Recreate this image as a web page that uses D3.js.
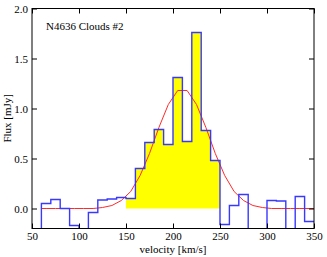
<!DOCTYPE html>
<html>
<head>
<meta charset="utf-8">
<script src="https://cdn.jsdelivr.net/npm/d3@7"></script>
<style>
  body { margin: 0; background: #fff; }
  svg text { font-family: "Liberation Serif", "DejaVu Serif", serif; font-size: 11px; fill: #000; }
</style>
</head>
<body>
<div id="chart"></div>
<script>
// spectrum: 10 km/s channels, value is flux of channel starting at binStart
var binStart = [50, 60, 70, 80, 90, 100, 110, 120, 130, 140,
                150, 160, 170, 180, 190, 200, 210, 220, 230, 240,
                250, 260, 270, 280, 290, 300, 310, 320, 330, 340];
var flux = [-0.3, 0.05, 0.09, 0.0, -0.17, -0.3, -0.04, 0.085, 0.095, 0.11,
            0.10, 0.40, 0.66, 0.79, 0.64, 1.31, 0.67, 1.76, 0.78, 0.48,
            -0.16, 0.03, 0.14, -0.3, -0.3, 0.08, 0.075, -0.3, 0.12, -0.13];

// gaussian fit
var fitVel = [60, 65, 75, 85, 95, 105, 115, 125, 135, 145, 155, 165, 175, 185, 195,
              205, 215, 225, 235, 245, 255, 265, 275, 285, 295, 305, 315, 325, 335, 345, 350];
var fitFlux = [0, 0, 0, 0, 0, 0, 0, 0.01, 0.03, 0.08, 0.17, 0.33, 0.55, 0.81, 1.04,
               1.18, 1.18, 1.04, 0.81, 0.55, 0.33, 0.17, 0.08, 0.03, 0.01, 0, 0, 0, 0, 0, 0];

var xTicks = [50, 100, 150, 200, 250, 300, 350];
var yTicks = [0, 0.5, 1.0, 1.5, 2.0];
var fillRange = [150, 250];
var title = "N4636 Clouds #2";

var svgWidth = 327, svgHeight = 257;
var margin = {top: 8.5, right: 13, bottom: 28.5, left: 32};
var width = svgWidth - margin.left - margin.right,
    height = svgHeight - margin.top - margin.bottom;

var svg = d3.select('#chart').append('svg')
  .attr('width', svgWidth)
  .attr('height', svgHeight);

var g = svg.append('g')
  .attr('transform', 'translate(' + margin.left + ',' + margin.top + ')');

var x = d3.scaleLinear().domain([50, 350]).range([0, width]);
var y = d3.scaleLinear().domain([-0.2, 2.0]).range([height, 0]);

g.append('clipPath').attr('id', 'plot-clip')
  .append('rect').attr('width', width).attr('height', height);

// step points: channel edges plus the closing edge
var steps = binStart.map(function(v, i) { return {v: v, f: flux[i]}; });
steps.push({v: binStart[binStart.length - 1] + 10, f: flux[flux.length - 1]});

var inner = g.append('g').attr('clip-path', 'url(#plot-clip)');

// yellow shaded line region
var shaded = steps.filter(function(d) { return d.v >= fillRange[0] && d.v <= fillRange[1]; });
var area = d3.area()
  .x(function(d) { return x(d.v); })
  .y0(y(0))
  .y1(function(d) { return y(d.f); })
  .curve(d3.curveStepAfter);
inner.append('path')
  .datum(shaded)
  .attr('fill', '#ffff00')
  .attr('d', area);

var fitLine = d3.line()
  .x(function(d, i) { return x(fitVel[i]); })
  .y(function(d) { return y(d); });
inner.append('path')
  .datum(fitFlux)
  .attr('fill', 'none')
  .attr('stroke', '#ff2a2a')
  .attr('stroke-width', 1)
  .attr('d', fitLine);

var stepLine = d3.line()
  .x(function(d) { return x(d.v); })
  .y(function(d) { return y(d.f); })
  .curve(d3.curveStepAfter);
inner.append('path')
  .datum(steps)
  .attr('fill', 'none')
  .attr('stroke', '#3838ff')
  .attr('stroke-width', 1.4)
  .attr('d', stepLine);

// axes, ticks inward on all sides
var tl = 5;
g.append('g')
  .attr('transform', 'translate(0,' + height + ')')
  .call(d3.axisBottom(x).tickValues(xTicks).tickSizeInner(-tl).tickSizeOuter(0).tickPadding(4).tickFormat(d3.format('d')))
  .call(function(a) { a.select('.domain').remove(); });
g.append('g')
  .call(d3.axisTop(x).tickValues(xTicks).tickSizeInner(-tl).tickSizeOuter(0).tickFormat(''))
  .call(function(a) { a.select('.domain').remove(); });
g.append('g')
  .call(d3.axisLeft(y).tickValues(yTicks).tickSizeInner(-tl).tickSizeOuter(0).tickPadding(4).tickFormat(d3.format('.1f')))
  .call(function(a) { a.select('.domain').remove(); });
g.append('g')
  .attr('transform', 'translate(' + width + ',0)')
  .call(d3.axisRight(y).tickValues(yTicks).tickSizeInner(-tl).tickSizeOuter(0).tickFormat(''))
  .call(function(a) { a.select('.domain').remove(); });

g.selectAll('.tick line').attr('stroke', '#000');
g.selectAll('.tick text').style('font-size', '11px');

g.append('rect')
  .attr('width', width).attr('height', height)
  .attr('fill', 'none').attr('stroke', '#000').attr('stroke-width', 1);

g.append('text')
  .attr('x', 14).attr('y', 21.5)
  .text(title);

g.append('text')
  .attr('x', width / 2).attr('y', height + 24)
  .attr('text-anchor', 'middle')
  .text('velocity [km/s]');

g.append('text')
  .attr('transform', 'rotate(-90)')
  .attr('x', -(y(1.0) + 9.8)).attr('y', -21)
  .attr('text-anchor', 'middle')
  .text('Flux [mJy]');
</script>
</body>
</html>
